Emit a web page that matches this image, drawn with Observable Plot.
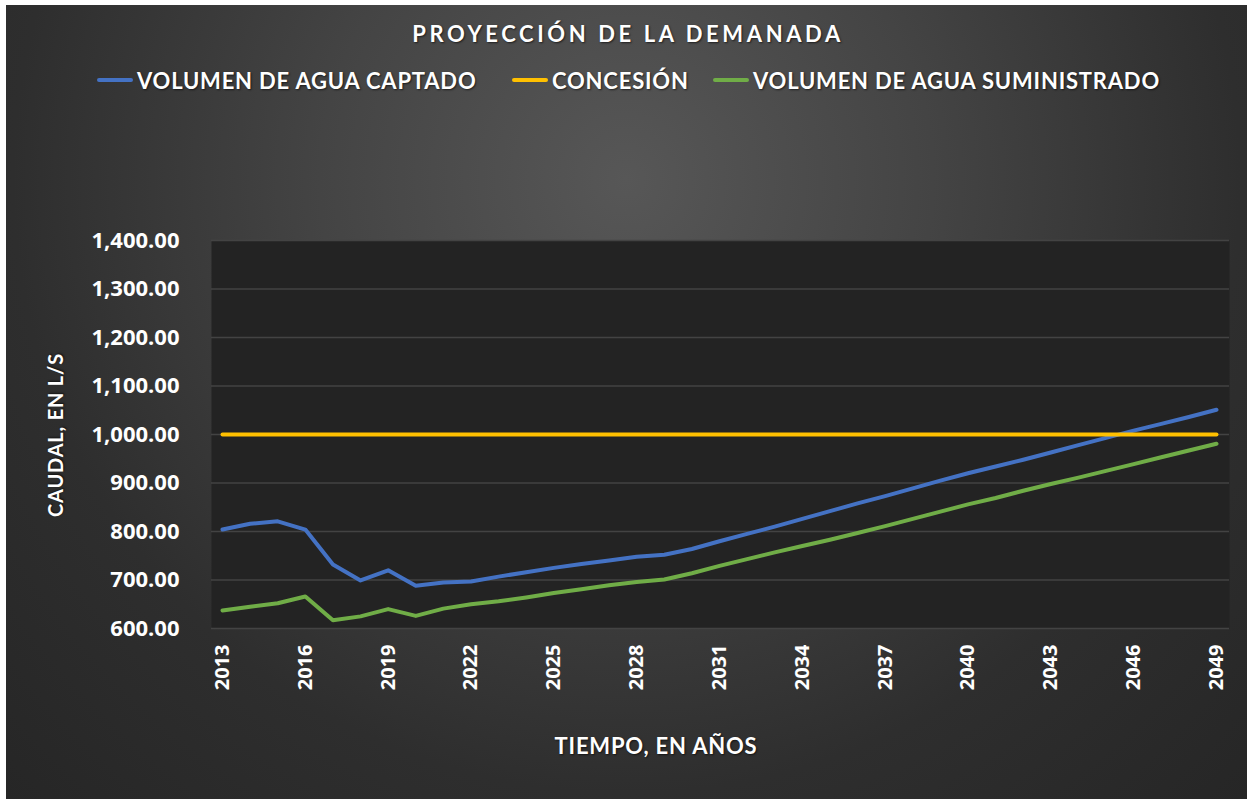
<!DOCTYPE html>
<html>
<head>
<meta charset="utf-8">
<script src="https://cdn.jsdelivr.net/npm/d3@7"></script>
<script src="https://cdn.jsdelivr.net/npm/@observablehq/plot@0.6"></script>
<style>
  html, body { margin: 0; padding: 0; background: #ffffff; }
  #chart {
    position: absolute; left: 6px; top: 5px; width: 1241px; height: 794px; overflow: hidden;
    background: radial-gradient(circle at 50% 22%, #575757 0%, #444444 35%, #2e2e2e 70%, #262626 100%);
    font-family: Lato, "Open Sans", sans-serif; color: #ffffff;
  }
  .txt { position: absolute; font-weight: 700; color: #fff; white-space: nowrap; text-shadow: 1px 1px 2px rgba(0,0,0,0.6); }
  #title { top: 15px; left: 0; width: 1244px; text-align: center; font-size: 22px; letter-spacing: 3.6px; }
  .leg { position: absolute; top: 63px; height: 24px; display: flex; align-items: center; font-weight: 700; font-size: 22px; letter-spacing: 0.8px; text-shadow: 1px 1px 2px rgba(0,0,0,0.6); }
  .sw { width: 36px; height: 4px; border-radius: 2px; margin-right: 4px; }
  #ytitle { left: 49px; top: 430px; transform: translate(-50%, -50%) rotate(-90deg); font-size: 20px; letter-spacing: 0.8px; }
  #xtitle { left: 650px; top: 740px; transform: translate(-50%, -50%); font-size: 22px; letter-spacing: 0.8px; }
  svg { position: absolute; left: 0; top: 0; }
</style>
</head>
<body>
<div id="chart">
  <div id="title" class="txt">PROYECCIÓN DE LA DEMANADA</div>
  <div id="legend"></div>
  <div id="ytitle" class="txt">CAUDAL, EN L/S</div>
  <div id="xtitle" class="txt">TIEMPO, EN AÑOS</div>
</div>
<script>
const years = [2013,2014,2015,2016,2017,2018,2019,2020,2021,2022,2023,2024,2025,2026,2027,2028,2029,2030,2031,2032,2033,2034,2035,2036,2037,2038,2039,2040,2041,2042,2043,2044,2045,2046,2047,2048,2049];
const captado = [804,816,821,804,732,699,720,688,695,697,707,716,725,733,740,748,752,764,780,795,810,826,842,858,873,889,905,920,934,948,963,978,993,1008,1022,1036,1051];
const concesion = [1000,1000,1000,1000,1000,1000,1000,1000,1000,1000,1000,1000,1000,1000,1000,1000,1000,1000,1000,1000,1000,1000,1000,1000,1000,1000,1000,1000,1000,1000,1000,1000,1000,1000,1000,1000,1000];
const suministrado = [637,645,652,666,617,625,640,626,641,650,656,664,673,681,689,696,701,714,729,743,757,770,783,797,811,826,841,856,869,884,898,911,925,939,953,967,981];
const seriesNames = ["VOLUMEN DE AGUA CAPTADO", "CONCESIÓN", "VOLUMEN DE AGUA SUMINISTRADO"];
const seriesColors = ["#4472C4", "#FFC000", "#70AD47"];
const xTicks = [2013,2016,2019,2022,2025,2028,2031,2034,2037,2040,2043,2046,2049];
const yTicks = [600,700,800,900,1000,1100,1200,1300,1400];

const seriesValues = [captado, concesion, suministrado];
const data = [];
seriesNames.forEach((name, i) => {
  years.forEach((yr, j) => data.push({series: name, year: yr, value: seriesValues[i][j]}));
});

// legend
const legendLefts = [91, 506, 707];
const legend = document.getElementById("legend");
seriesNames.forEach((name, i) => {
  const item = document.createElement("div");
  item.className = "leg";
  item.style.left = legendLefts[i] + "px";
  const sw = document.createElement("div");
  sw.className = "sw";
  sw.style.background = seriesColors[i];
  item.appendChild(sw);
  const t = document.createElement("span");
  t.textContent = name;
  item.appendChild(t);
  legend.appendChild(item);
});

const chart = Plot.plot({
  width: 1241,
  height: 794,
  marginLeft: 205,
  marginRight: 18,
  marginTop: 235,
  marginBottom: 171,
  style: {background: "transparent", color: "#ffffff", fontFamily: "'Open Sans', sans-serif", fontWeight: 700, overflow: "visible"},
  x: {domain: [2013, 2049], insetLeft: 11, insetRight: 13},
  y: {domain: [600, 1400]},
  color: {domain: seriesNames, range: seriesColors},
  marks: [
    Plot.frame({fill: "#232323", stroke: null}),
    Plot.gridY(yTicks, {stroke: "#434343", strokeOpacity: 1, strokeWidth: 1.5}),
    Plot.axisY(yTicks, {tickSize: 0, tickPadding: 32, tickFormat: d3.format(",.2f"), fontSize: 22, label: null, fill: "#ffffff", style: "letter-spacing:2px"}),
    Plot.axisX(xTicks, {tickSize: 0, tickPadding: 16, tickRotate: -90, tickFormat: d => String(d), fontSize: 20, label: null, fill: "#ffffff", style: "letter-spacing:2.5px"}),
    Plot.line(data, {x: "year", y: "value", z: "series", stroke: "series", strokeWidth: 4, strokeLinecap: "round", strokeLinejoin: "round", style: "filter: drop-shadow(1px 2px 1.5px rgba(0,0,0,0.7))"})
  ]
});
document.getElementById("chart").appendChild(chart);
</script>
</body>
</html>
